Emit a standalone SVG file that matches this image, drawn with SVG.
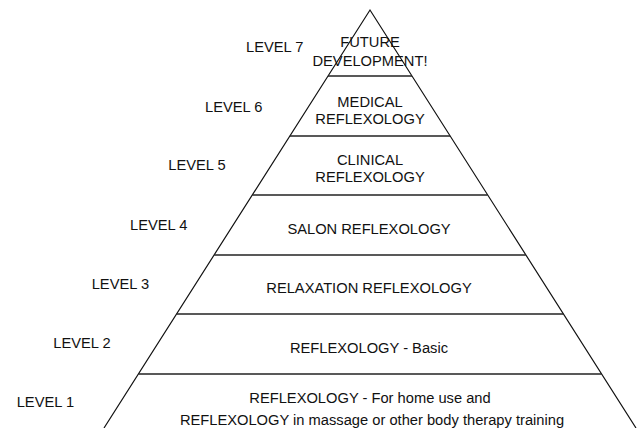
<svg xmlns="http://www.w3.org/2000/svg" width="637" height="428" viewBox="0 0 637 428">
  <style>
    .t { font-family: "Liberation Sans", Arial, sans-serif; font-size: 14.7px; fill: #111; }
    .c { text-anchor: middle; }
    .edge { fill: none; stroke: #111; stroke-width: 1.2; }
    .band { stroke: #222; stroke-width: 1.3; }
  </style>
  <rect width="637" height="428" fill="#fff"/>

  <!-- pyramid outline -->
  <g id="outline">
    <path class="edge" d="M104,428 L370,10 L636,428"/>
  </g>

  <!-- band dividers -->
  <g id="dividers">
    <line class="band" x1="328" y1="76" x2="412" y2="76"/>
    <line class="band" x1="289.9" y1="136" x2="450.1" y2="136"/>
    <line class="band" x1="252.3" y1="195" x2="487.7" y2="195"/>
    <line class="band" x1="214.2" y1="255" x2="525.8" y2="255"/>
    <line class="band" x1="176.7" y1="314" x2="563.3" y2="314"/>
    <line class="band" x1="138.5" y1="374" x2="601.5" y2="374"/>
  </g>

  <g id="level7">
    <text class="t" x="246" y="52">LEVEL 7</text>
    <text class="t c" x="370" y="47">FUTURE</text>
    <text class="t c" x="370" y="65.5">DEVELOPMENT!</text>
  </g>

  <g id="level6">
    <text class="t" x="205" y="111.7">LEVEL 6</text>
    <text class="t c" x="370" y="106.7">MEDICAL</text>
    <text class="t c" x="370" y="123.5">REFLEXOLOGY</text>
  </g>

  <g id="level5">
    <text class="t" x="168.3" y="170">LEVEL 5</text>
    <text class="t c" x="370" y="165">CLINICAL</text>
    <text class="t c" x="370" y="181.7">REFLEXOLOGY</text>
  </g>

  <g id="level4">
    <text class="t" x="130" y="230">LEVEL 4</text>
    <text class="t c" x="369" y="234">SALON REFLEXOLOGY</text>
  </g>

  <g id="level3">
    <text class="t" x="91.7" y="289.3">LEVEL 3</text>
    <text class="t c" x="369" y="293">RELAXATION REFLEXOLOGY</text>
  </g>

  <g id="level2">
    <text class="t" x="53.3" y="348.3">LEVEL 2</text>
    <text class="t c" x="369" y="352.5">REFLEXOLOGY - Basic</text>
  </g>

  <g id="level1">
    <text class="t" x="16.7" y="406.7">LEVEL 1</text>
    <text class="t c" x="370" y="403.3">REFLEXOLOGY - For home use and</text>
    <text class="t c" x="372" y="424.5">REFLEXOLOGY in massage or other body therapy training</text>
  </g>
</svg>
